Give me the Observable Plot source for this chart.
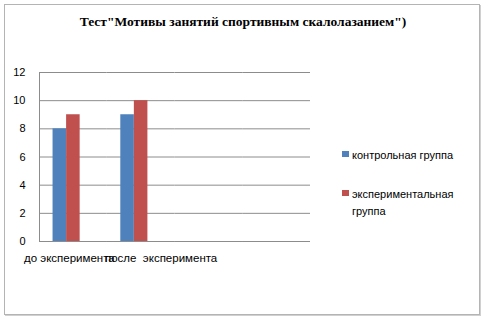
<!DOCTYPE html>
<html>
<head>
<meta charset="utf-8">
<script src="https://cdn.jsdelivr.net/npm/d3@7"></script>
<script src="https://cdn.jsdelivr.net/npm/@observablehq/plot@0.6"></script>
<style>
  html, body { margin: 0; padding: 0; background: #fff; }
  #wrap { position: relative; width: 486px; height: 321px; overflow: hidden; font-family: "Liberation Sans", Arial, sans-serif; }
  #border { position: absolute; left: 4px; top: 4px; width: 474px; height: 309px; border: 1px solid #b4b4b4; box-shadow: 1px 1px 0 #d0d0d0; }
  #title { position: absolute; left: 0; width: 486px; top: 14px; text-align: center; font-family: "Liberation Serif", "Times New Roman", serif; font-weight: bold; font-size: 13.5px; color: #000; }
  #chart { position: absolute; left: 0; top: 0; }
  .leg { position: absolute; font-size: 11px; color: #000; line-height: 17px; }
  .sw { position: absolute; width: 7px; height: 6px; }
</style>
</head>
<body>
<div id="wrap">
  <div id="border"></div>
  <div id="chart"></div>
  <div id="title"></div>
  <div id="legend"></div>
</div>
<script>
const title = 'Тест"Мотивы занятий спортивным скалолазанием")';
const categories = ["до эксперимента", "после\u00a0\u00a0эксперимента", "cat3", "cat4"];
const seriesNames = ["контрольная группа", "экспериментальная группа", "ряд3"];
const control = [8, 9];            // контрольная группа
const experimental = [9, 10];      // экспериментальная группа
const yTicks = [0, 2, 4, 6, 8, 10, 12];
const colors = ["#4F81BD", "#C0504D", "#9BBB59"];

const data = [];
[control, experimental].forEach((vals, s) => {
  vals.forEach((v, i) => data.push({cat: categories[i], series: seriesNames[s], value: v}));
});
const labels = categories.slice(0, 2).map(c => ({cat: c, label: c}));

const plot = Plot.plot({
  width: 486,
  height: 321,
  marginLeft: 39,
  marginRight: 176,
  marginTop: 72,
  marginBottom: 80,
  style: {fontFamily: '"Liberation Sans", Arial, sans-serif', fontSize: "11px", color: "#000", background: "transparent", overflow: "visible"},
  fx: {domain: categories, padding: 0, axis: null, round: false},
  x: {domain: seriesNames, paddingInner: 0, paddingOuter: 1, axis: null, round: false},
  y: {domain: [0, 12], ticks: yTicks, tickSize: 0, tickPadding: 14, label: null},
  color: {domain: seriesNames, range: colors},
  marks: [
    Plot.ruleY(categories, {fx: d => d, y: () => 0, stroke: "#8c8c8c"}),
    Plot.gridY(yTicks, {stroke: "#8c8c8c", strokeOpacity: 1}),
    Plot.frame({anchor: "left", facetAnchor: "left", stroke: "#8c8c8c"}),
    Plot.barY(data, {fx: "cat", x: "series", y: "value", fill: "series"}),
    Plot.text(labels.slice(0, 1), {fx: "cat", text: "label", frameAnchor: "bottom", dy: 20, dx: -4, fontSize: 11.5}),
    Plot.text(labels.slice(1, 2), {fx: "cat", text: "label", frameAnchor: "bottom", dy: 20, dx: 20, fontSize: 11.5})
  ]
});
document.getElementById("chart").appendChild(plot);
document.getElementById("title").textContent = title;

const legend = document.getElementById("legend");
const legItems = [
  {color: colors[0], top: 147, lines: ["контрольная группа"]},
  {color: colors[1], top: 186, lines: ["экспериментальная", "группа"]}
];
legItems.forEach(it => {
  const sw = document.createElement("div");
  sw.className = "sw";
  sw.style.left = "342px";
  sw.style.top = (it.top + 4) + "px";
  sw.style.background = it.color;
  legend.appendChild(sw);
  const t = document.createElement("div");
  t.className = "leg";
  t.style.left = "352px";
  t.style.top = it.top + "px";
  t.innerHTML = it.lines.join("<br>");
  legend.appendChild(t);
});
</script>
</body>
</html>
